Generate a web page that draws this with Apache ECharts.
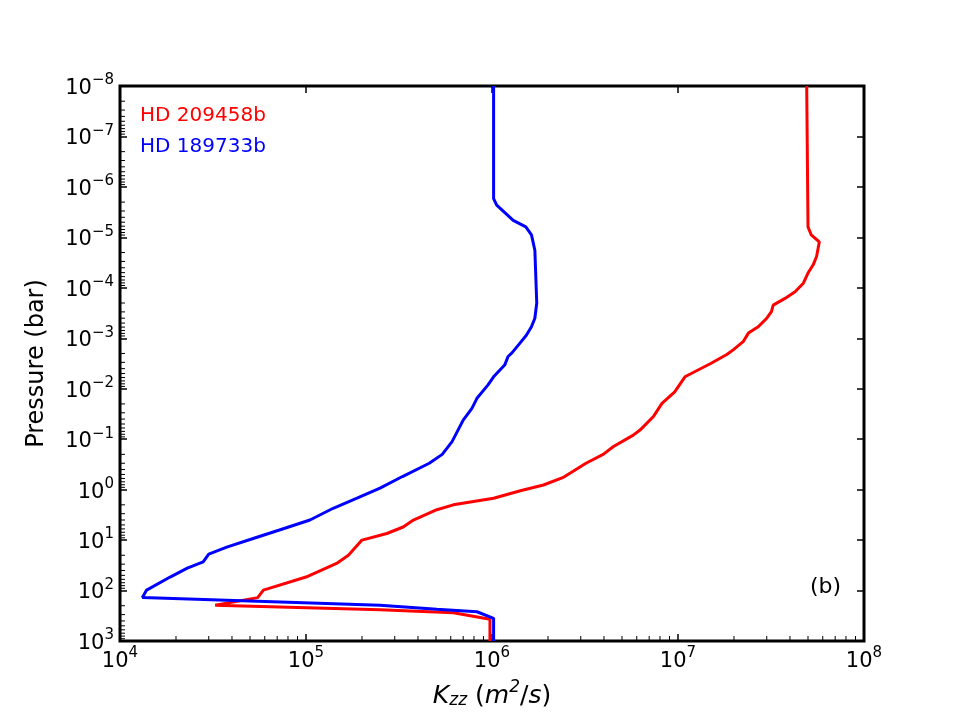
<!DOCTYPE html>
<html lang="en">
<head>
    <meta charset="utf-8"/>
    <title>Kzz profiles</title>
    <script type="text/javascript" src="https://cdn.jsdelivr.net/npm/echarts@6/dist/echarts.min.js"></script>
    <style>
        html, body {
            margin: 0;
            background: #FFFFFF;
        }

        #chart {
            width: 960px;
            height: 720px;
        }
    </style>
</head>
<body>
<div id="chart"></div>
<script>
    // HD 209458b (Kzz in m^2/s, pressure in bar)
    var hd209Kzz = [4.92e7, 5.0e7, 5.2e7, 5.75e7, 5.56e7, 5.33e7, 5.0e7, 4.72e7, 4.26e7, 3.76e7,
        3.25e7, 3.18e7, 3.0e7, 2.7e7, 2.39e7, 2.24e7, 1.98e7, 1.83e7, 1.49e7, 1.09e7,
        9.6e6, 8.2e6, 7.4e6, 6.25e6, 5.75e6, 4.5e6, 3.96e6, 3.2e6, 2.4e6, 1.89e6,
        1.42e6, 1.02e6, 6.2e5, 5.05e5, 3.78e5, 3.33e5, 2.72e5, 2.0e5, 1.69e5, 1.46e5,
        1.0e5, 5.9e4, 5.5e4, 3.25e4, 2.5e5, 6.2e5, 9.75e5, 9.75e5]
    var hd209P = [1e-8, 6.2e-6, 8.9e-6, 1.23e-5, 2.4e-5, 3.5e-5, 5.1e-5, 8.1e-5, 1.2e-4, 1.62e-4,
        2.2e-4, 2.95e-4, 4.0e-4, 5.9e-4, 7.9e-4, 1.17e-3, 1.7e-3, 2.1e-3, 3.2e-3, 5.8e-3,
        1.15e-2, 1.95e-2, 3.5e-2, 6.6e-2, 8.3e-2, 0.14, 0.20, 0.30, 0.58, 0.81,
        1.05, 1.48, 2.0, 2.5, 4.0, 5.5, 7.4, 10, 20, 29,
        54, 98, 138, 195, 240, 275, 372, 1000]

    // HD 189733b
    var hd189Kzz = [1.02e6, 1.02e6, 1.06e6, 1.30e6, 1.52e6, 1.63e6, 1.70e6, 1.74e6, 1.70e6, 1.63e6,
        1.53e6, 1.41e6, 1.28e6, 1.22e6, 1.17e6, 1.02e6, 9.5e5, 8.3e5, 7.8e5, 7.0e5,
        6.1e5, 5.4e5, 4.6e5, 3.3e5, 2.5e5, 1.88e5, 1.40e5, 1.05e5, 7.2e4, 5.2e4,
        3.75e4, 3.0e4, 2.8e4, 2.3e4, 1.86e4, 1.39e4, 1.32e4, 2.5e5, 5.05e5, 8.3e5,
        1.02e6, 1.02e6]
    var hd189P = [1e-8, 1.7e-6, 2.3e-6, 4.6e-6, 6.2e-6, 8.9e-6, 1.8e-5, 2.0e-4, 4.0e-4, 5.9e-4,
        8.7e-4, 1.26e-3, 1.95e-3, 2.3e-3, 3.4e-3, 5.8e-3, 8.5e-3, 1.55e-2, 2.45e-2, 4.2e-2,
        0.112, 0.20, 0.30, 0.55, 0.93, 1.48, 2.34, 4.0, 6.3, 9.3,
        13.8, 19, 27, 36, 54, 98, 138, 195, 234, 263,
        355, 1000]

    var seriesNames = ['HD 209458b', 'HD 189733b']
    var seriesColors = ['#ff0000', '#0000ff']

    var xMin = 1e4, xMax = 1e8
    var yMin = 1e-8, yMax = 1e3

    function pairs(xs, ys) {
        return xs.map(function (x, i) { return [x, ys[i]] })
    }

    // minor tick values 2..9 x 10^k inside [lo, hi)
    function minorValues(lo, hi) {
        var out = []
        for (var e = Math.round(Math.log10(lo)); e < Math.round(Math.log10(hi)); e++) {
            for (var m = 2; m <= 9; m++) out.push(m * Math.pow(10, e))
        }
        return out
    }

    function powLabel(value) {
        var e = Math.round(Math.log10(value))
        return '{b|10}{s|' + String(e).replace('-', '\u2212') + '}'
    }

    var labelRich = {
        b: {fontSize: 21, color: '#000', fontFamily: 'DejaVu Sans', lineHeight: 26, verticalAlign: 'bottom'},
        s: {fontSize: 15, color: '#000', fontFamily: 'DejaVu Sans', lineHeight: 15, verticalAlign: 'top'}
    }

    var tickStyle = {color: '#000', width: 1.5}

    var chart = echarts.init(document.getElementById('chart'), null, {renderer: 'canvas'})

    chart.setOption({
        animation: false,
        textStyle: {fontFamily: 'DejaVu Sans'},
        grid: {left: 120, right: 96, top: 86, bottom: 79, show: true, borderColor: '#000', borderWidth: 3},
        legend: {
            orient: 'vertical', left: 130, top: 101, itemGap: 11, itemWidth: 0, icon: 'none',
            data: [
                {name: seriesNames[0], textStyle: {color: seriesColors[0]}},
                {name: seriesNames[1], textStyle: {color: seriesColors[1]}}
            ],
            textStyle: {fontSize: 20, fontFamily: 'DejaVu Sans'}
        },
        graphic: [{
            type: 'text', left: 810, top: 576,
            style: {text: '(b)', fontSize: 22, fontFamily: 'DejaVu Sans', fill: '#000'}
        }],
        xAxis: [{
            type: 'log', logBase: 10, min: xMin, max: xMax, interval: 1,
            position: 'bottom',
            name: '{i|K}{sub|zz}{n| (}{i|m}{sup|2}{n|/}{i|s}{n|)}',
            nameLocation: 'middle', nameGap: 38,
            nameTextStyle: {
                rich: {
                    i: {fontSize: 25, fontStyle: 'italic', color: '#000', fontFamily: 'DejaVu Sans', verticalAlign: 'bottom', lineHeight: 30},
                    n: {fontSize: 25, color: '#000', fontFamily: 'DejaVu Sans', verticalAlign: 'bottom', lineHeight: 30},
                    sub: {fontSize: 17, fontStyle: 'italic', color: '#000', fontFamily: 'DejaVu Sans', verticalAlign: 'bottom', lineHeight: 24},
                    sup: {fontSize: 17, fontStyle: 'italic', color: '#000', fontFamily: 'DejaVu Sans', verticalAlign: 'top', lineHeight: 17}
                }
            },
            axisLine: {show: false},
            axisTick: {show: true, inside: true, length: 7, lineStyle: tickStyle},
            splitLine: {show: false},
            axisLabel: {margin: 5, formatter: powLabel, rich: labelRich}
        }, {
            type: 'log', logBase: 10, min: xMin, max: xMax, interval: 1,
            position: 'top',
            axisLine: {show: false},
            axisTick: {show: true, inside: true, length: 7, lineStyle: tickStyle},
            splitLine: {show: false},
            axisLabel: {show: false}
        }],
        yAxis: [{
            type: 'log', logBase: 10, min: yMin, max: yMax, interval: 1, inverse: true,
            position: 'left',
            name: 'Pressure (bar)', nameLocation: 'middle', nameGap: 71,
            nameTextStyle: {fontSize: 24, color: '#000', fontFamily: 'DejaVu Sans'},
            axisLine: {show: false},
            axisTick: {show: true, inside: true, length: 7, lineStyle: tickStyle},
            splitLine: {show: false},
            axisLabel: {margin: 6, formatter: powLabel, rich: labelRich}
        }, {
            type: 'log', logBase: 10, min: yMin, max: yMax, interval: 1, inverse: true,
            position: 'right',
            axisLine: {show: false},
            axisTick: {show: true, inside: true, length: 7, lineStyle: tickStyle},
            splitLine: {show: false},
            axisLabel: {show: false}
        }],
        series: [{
            name: seriesNames[0], type: 'line', showSymbol: false, symbol: 'none',
            xAxisIndex: 0, yAxisIndex: 0,
            lineStyle: {color: seriesColors[0], width: 3}, itemStyle: {color: seriesColors[0]},
            data: pairs(hd209Kzz, hd209P)
        }, {
            name: seriesNames[1], type: 'line', showSymbol: false, symbol: 'none',
            xAxisIndex: 0, yAxisIndex: 0,
            lineStyle: {color: seriesColors[1], width: 3}, itemStyle: {color: seriesColors[1]},
            data: pairs(hd189Kzz, hd189P)
        }, {
            // minor ticks on the bottom axis
            type: 'custom', silent: true, clip: false, z: 5,
            data: minorValues(xMin, xMax).map(function (v) { return [v, yMax] }),
            renderItem: function (params, api) {
                var p = api.coord([api.value(0), api.value(1)])
                return {type: 'line', shape: {x1: p[0], y1: p[1], x2: p[0], y2: p[1] - 5}, style: {stroke: '#000', lineWidth: 1}}
            }
        }, {
            // minor ticks on the left axis
            type: 'custom', silent: true, clip: false, z: 5,
            data: minorValues(yMin, yMax).map(function (v) { return [xMin, v] }),
            renderItem: function (params, api) {
                var p = api.coord([api.value(0), api.value(1)])
                return {type: 'line', shape: {x1: p[0], y1: p[1], x2: p[0] + 5, y2: p[1]}, style: {stroke: '#000', lineWidth: 1}}
            }
        }]
    })
</script>
</body>
</html>
